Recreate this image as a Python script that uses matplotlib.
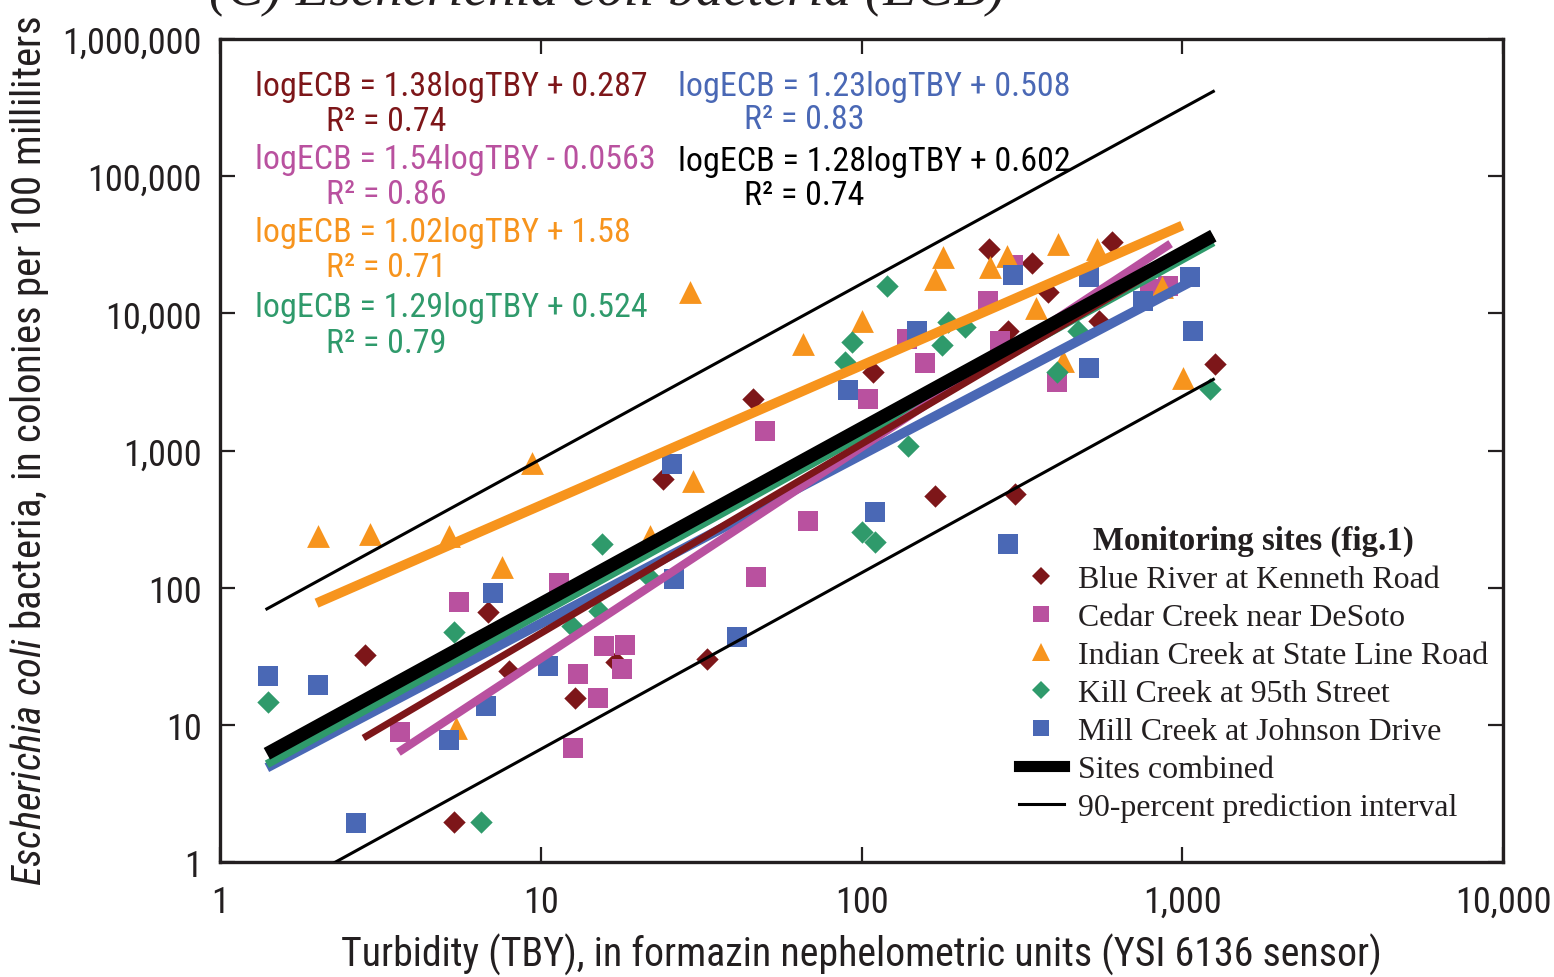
import numpy as np
import matplotlib
matplotlib.use("Agg")
from matplotlib import pyplot as plt
from matplotlib import font_manager as fm
from matplotlib.lines import Line2D
from matplotlib.ticker import FixedLocator, FuncFormatter, NullLocator

# pick a condensed sans (the original uses Univers Condensed)
have = {f.name for f in fm.fontManager.ttflist}
cands = ['Roboto Condensed', 'Archivo Narrow', 'PT Sans Narrow', 'Fira Sans Condensed',
         'IBM Plex Sans Condensed', 'Encode Sans Condensed', 'Asap Condensed',
         'Barlow Semi Condensed', 'Liberation Sans Narrow', 'Roboto']
narrow_name = next((c for c in cands if c in have), 'DejaVu Sans')
narrow = [narrow_name, 'DejaVu Sans']
serif = ['Liberation Serif', 'DejaVu Serif']
plt.rcParams['font.family'] = narrow
plt.rcParams['mathtext.fontset'] = 'custom'
plt.rcParams['mathtext.rm'] = narrow_name
plt.rcParams['mathtext.it'] = narrow_name + ':italic'

# sample values (turbidity FNU, E. coli col/100 mL)
blue_river_tby = [2.83, 6.85, 7.96, 12.8, 17.2, 5.37, 33.0, 24.1, 45.9, 108.7, 169.6, 301,
                  250, 340, 604, 286, 551, 382, 1267]
blue_river_ecb = [32.3, 66.4, 24.7, 15.7, 28.7, 1.96, 30.2, 619, 2370, 3725, 465, 481,
                  29400, 23200, 33000, 7420, 8770, 14280, 4265]

cedar_tby = [5.56, 11.4, 3.64, 15.7, 18.3, 13.1, 17.9, 15.1, 12.6, 46.9, 68.2, 50.1, 105,
             158, 139, 248, 407, 297, 794, 904, 270]
cedar_ecb = [78.5, 108, 8.87, 37.5, 38.2, 23.5, 25.5, 15.7, 6.78, 119, 306, 1385, 2370,
             4335, 6490, 12270, 3150, 22450, 15000, 15800, 6270]

indian_tby = [2.02, 2.94, 5.18, 7.57, 9.40, 5.44, 21.9, 29.2, 29.9, 65.8, 100.5, 179.6,
              169.8, 252, 284, 410, 543, 350, 865, 1007, 425]
indian_ecb = [238, 246, 238, 141, 809, 9.48, 238, 14280, 598, 5970, 8770, 25700, 17750,
              21700, 26100, 31900, 29400, 10910, 15520, 3370, 4485]

kill_tby = [1.41, 5.37, 6.51, 12.5, 15.2, 21.8, 15.5, 120, 93.5, 88.9, 186, 178, 210, 140,
            100.5, 110, 473, 407, 1222]
kill_ecb = [14.7, 47.5, 1.96, 52.5, 67.5, 119, 208, 15800, 6170, 4410, 8630, 5870, 7930,
            1077, 254, 215, 7420, 3725, 2805]

mill_tby = [1.41, 2.02, 2.66, 5.18, 7.10, 6.75, 10.5, 26.0, 25.7, 40.9, 90.8, 110, 149, 297,
            513, 513, 755, 1082, 1059, 286]
mill_ecb = [22.7, 19.5, 1.92, 7.75, 91.4, 13.7, 26.8, 115, 796, 43.6, 2755, 356, 7420, 19000,
            18400, 3990, 12270, 7420, 18400, 208]

# regression lines: slope, intercept, turbidity range
fit_slope = [1.23, 1.29, 1.54, 1.38, 1.02, 1.28]
fit_icpt = [0.508, 0.524, -0.0563, 0.287, 1.58, 0.602]
fit_lo = [1.4, 1.4, 3.6, 2.8, 2.0, 1.4]
fit_hi = [1060, 1250, 920, 1250, 1000, 1250]

pi_tby = [1.4, 1250]
pi_upper = [70, 415000]
pi_lower = [0.53, 3300]

c_red = '#7d1619'
c_mag = '#b9519f'
c_org = '#f7941d'
c_grn = '#2f9a6b'
c_blu = '#4a68b5'
ink = '#231f20'
fit_colors = [c_blu, c_grn, c_mag, c_red, c_org, 'black']
fit_widths = [7, 6, 6, 5, 7, 9.5]

fig = plt.figure(figsize=(15.54, 9.78), dpi=100)
ax = fig.add_axes([220 / 1554, 1 - 863 / 978, 1283 / 1554, 823 / 978])
rend = fig.canvas.get_renderer()


def size_for(text, target, **kw):
    # font size that makes `text` about `target` pixels wide
    t = fig.text(0, 0, text, fontsize=10, **kw)
    w = t.get_window_extent(rend).width
    t.remove()
    return 10 * target / w


def fit(t, target, use_height=False):
    bb = t.get_window_extent(rend)
    cur = bb.height if use_height else bb.width
    t.set_fontsize(t.get_fontsize() * target / cur)


ax.scatter(blue_river_tby, blue_river_ecb, marker='D', s=130, color=c_red, lw=0, zorder=2)
ax.scatter(cedar_tby, cedar_ecb, marker='s', s=200, color=c_mag, lw=0, zorder=2)
ax.scatter(indian_tby, indian_ecb, marker='^', s=270, color=c_org, lw=0, zorder=2)
ax.scatter(kill_tby, kill_ecb, marker='D', s=130, color=c_grn, lw=0, zorder=2)
ax.scatter(mill_tby, mill_ecb, marker='s', s=200, color=c_blu, lw=0, zorder=2)

for m, b, lo, hi, col, w in zip(fit_slope, fit_icpt, fit_lo, fit_hi, fit_colors, fit_widths):
    xx = np.array([lo, hi])
    ax.plot(xx, 10 ** (m * np.log10(xx) + b), color=col, lw=w, solid_capstyle='butt', zorder=3)

ax.plot(pi_tby, pi_upper, color='black', lw=2.2, zorder=4)
ax.plot(pi_tby, pi_lower, color='black', lw=2.2, zorder=4)

ax.set_xscale('log')
ax.set_yscale('log')
ax.set_xlim(1, 10000)
ax.set_ylim(1, 1000000)
ax.xaxis.set_major_locator(FixedLocator([1, 10, 100, 1000, 10000]))
ax.yaxis.set_major_locator(FixedLocator([1, 10, 100, 1000, 10000, 100000, 1000000]))
ax.xaxis.set_minor_locator(NullLocator())
ax.yaxis.set_minor_locator(NullLocator())
fmt = FuncFormatter(lambda v, p: f'{int(round(v)):,}')
ax.xaxis.set_major_formatter(fmt)
ax.yaxis.set_major_formatter(fmt)
tick_fs = size_for('1,000,000', 138)
ax.tick_params(which='major', direction='in', length=11, width=1.6, labelsize=tick_fs,
               top=True, right=True, color=ink, labelcolor=ink)
ax.tick_params(axis='x', pad=16)
ax.tick_params(axis='y', pad=13)
for sp in ax.spines.values():
    sp.set_linewidth(2.4)
    sp.set_color(ink)

xl = ax.set_xlabel('Turbidity (TBY), in formazin nephelometric units (YSI 6136 sensor)',
                   fontsize=26, color=ink, labelpad=9)
yl = ax.set_ylabel(r'$\mathit{Escherichia\ coli}$ bacteria, in colonies per 100 milliliters',
                   fontsize=25, color=ink, labelpad=8)
fit(xl, 1040)
fit(yl, 870, use_height=True)


def px(x, y):
    return (x - 220) / 1283, (863 - y) / 823


eqs = [
    ('logECB = 1.38logTBY + 0.287', 'R² = 0.74', c_red, 255, 87, 326, 122),
    ('logECB = 1.54logTBY - 0.0563', 'R² = 0.86', c_mag, 255, 160, 326, 195),
    ('logECB = 1.02logTBY + 1.58', 'R² = 0.71', c_org, 255, 233, 326, 268),
    ('logECB = 1.29logTBY + 0.524', 'R² = 0.79', c_grn, 255, 308, 326, 344),
    ('logECB = 1.23logTBY + 0.508', 'R² = 0.83', c_blu, 678, 87, 744, 120),
    ('logECB = 1.28logTBY + 0.602', 'R² = 0.74', 'black', 678, 162, 744, 196),
]
eq_fs = size_for(eqs[0][0], 390)
for eq, r2, col, x1, y1, x2, y2 in eqs:
    ax.text(*px(x1, y1), eq, transform=ax.transAxes, color=col, fontsize=eq_fs,
            va='center', ha='left')
    ax.text(*px(x2, y2), r2, transform=ax.transAxes, color=col, fontsize=eq_fs,
            va='center', ha='left')

handles = [
    Line2D([], [], ls='none', marker='D', ms=9, color=c_red, mew=0),
    Line2D([], [], ls='none', marker='s', ms=11, color=c_mag, mew=0),
    Line2D([], [], ls='none', marker='^', ms=13, color=c_org, mew=0),
    Line2D([], [], ls='none', marker='D', ms=9, color=c_grn, mew=0),
    Line2D([], [], ls='none', marker='s', ms=11, color=c_blu, mew=0),
    Line2D([], [], color='black', lw=8),
    Line2D([], [], color='black', lw=2.2),
]
labels = ['Blue River at Kenneth Road', 'Cedar Creek near DeSoto',
          'Indian Creek at State Line Road', 'Kill Creek at 95th Street',
          'Mill Creek at Johnson Drive', 'Sites combined', '90-percent prediction interval']
leg_fs = size_for(labels[0], 363, family=serif)
leg = ax.legend(handles, labels, loc='upper left', bbox_to_anchor=px(1003, 510),
                frameon=False, prop={'family': serif, 'size': leg_fs},
                title='Monitoring sites (fig.1)',
                title_fontproperties={'family': serif, 'size': leg_fs * 1.03, 'weight': 'bold'},
                handlelength=1.4, handletextpad=0.45, labelspacing=0.27, borderpad=0)
for t in leg.get_texts():
    t.set_color(ink)
leg.get_title().set_color(ink)

title = fig.text(607 / 1554, 1.008, '(C) Escherichia coli bacteria (ECB)', family=serif,
                 style='italic', fontsize=31, ha='center', va='center', color=ink)
fit(title, 795)

fig.savefig('out.png', dpi=100)
